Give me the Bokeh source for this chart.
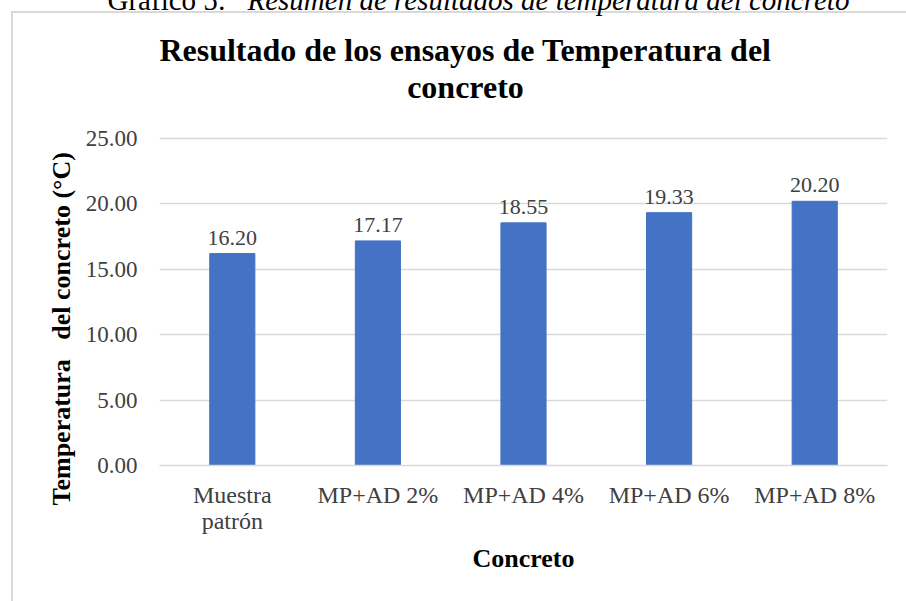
from bokeh.plotting import figure
from bokeh.models import Label, Range1d, FixedTicker, NumeralTickFormatter, ColumnDataSource, Title
from bokeh.core.properties import value
from bokeh.embed import file_html
from bokeh.resources import INLINE

categories = ["Muestra\npatrón", "MP+AD 2%", "MP+AD 4%", "MP+AD 6%", "MP+AD 8%"]
temperatures = [16.20, 17.17, 18.55, 19.33, 20.20]
value_labels = ["16.20", "17.17", "18.55", "19.33", "20.20"]
y_ticks = [0, 5, 10, 15, 20, 25]
y_max_tick = 25

FONT = "Liberation Serif"
W, H = 906, 601
FRAME_LEFT, FRAME_RIGHT, FRAME_BOTTOM = 159, 887, 465
GRID_TOP = 138  # pixel row of the 25.00 gridline
# frame extends to the top of the canvas; range chosen so 25 sits at GRID_TOP
y_top = y_max_tick * FRAME_BOTTOM / (FRAME_BOTTOM - GRID_TOP)

p = figure(x_range=categories, y_range=Range1d(0, y_top), width=W, height=H,
           output_backend="svg", toolbar_location=None,
           min_border_left=FRAME_LEFT, min_border_right=W - FRAME_RIGHT,
           min_border_top=0, min_border_bottom=H - FRAME_BOTTOM)
p.outline_line_color = None
p.background_fill_color = None
p.border_fill_color = None
# light-grey chart-area border (left and top edges), as in the source document
p.styles = {
    "background-color": "white",
    "background-image": "linear-gradient(#d9d9d9,#d9d9d9), linear-gradient(#d9d9d9,#d9d9d9)",
    "background-size": "2px 100%, 100% 2px",
    "background-position": "11px 11px, 11px 11px",
    "background-repeat": "no-repeat",
}

src = ColumnDataSource(dict(cat=categories, temp=temperatures, lab=value_labels))
p.vbar(x="cat", top="temp", width=0.31, source=src, fill_color="#4472C4", line_color="#4472C4")
p.text(x="cat", y="temp", text="lab", source=src, text_align="center", text_baseline="alphabetic",
       y_offset=-16, text_font=value(FONT), text_font_size="22px", text_color="#404040")

p.xgrid.grid_line_color = None
p.ygrid.grid_line_color = "#d9d9d9"
p.ygrid.grid_line_width = 1.5
p.yaxis.ticker = FixedTicker(ticks=y_ticks)
p.yaxis.formatter = NumeralTickFormatter(format="0.00")
p.yaxis.axis_line_color = None
p.yaxis.major_tick_line_color = None
p.yaxis.minor_tick_line_color = None
p.yaxis.major_label_standoff = 16
p.yaxis.major_label_text_font_size = "23px"
p.xaxis.axis_line_color = "#d9d9d9"
p.xaxis.axis_line_width = 1.5
p.xaxis.major_tick_line_color = None
p.xaxis.major_label_standoff = 10
p.xaxis.major_label_text_font_size = "24px"
p.xaxis.major_label_text_line_height = 1.0
p.xaxis.axis_label = "Concreto"
p.xaxis.axis_label_standoff = 7
for ax in (p.xaxis, p.yaxis):
    ax.major_label_text_font = FONT
    ax.major_label_text_color = "#404040"
    ax.axis_label_text_font = FONT
    ax.axis_label_text_font_style = "bold"
    ax.axis_label_text_font_size = "26px"
    ax.axis_label_text_color = "#000000"

# y axis title (left panel, shifted down like the original)
p.add_layout(Title(text="Temperatura\u00a0\u00a0\u00a0del concreto (°C)", align="left", offset=-40, standoff=14,
                   text_font=FONT, text_font_style="bold", text_font_size="26px",
                   text_color="#000000"), "left")

# chart title (two centred lines)
for txt, yy in (("Resultado de los ensayos de Temperatura del", FRAME_BOTTOM - 49),
                ("concreto", FRAME_BOTTOM - 86)):
    p.add_layout(Label(x=465 - FRAME_LEFT, y=yy, x_units="screen", y_units="screen", text=txt,
                       text_align="center", text_baseline="alphabetic", text_font=FONT,
                       text_font_style="bold", text_font_size="32px", text_color="#000000"))

# document caption, cut by the top of the page
for txt, off, style in (("Gráfico 5:", 107 - FRAME_LEFT, "normal"),
                        ("Resumen de resultados de temperatura del concreto", 247 - FRAME_LEFT, "italic")):
    p.add_layout(Title(text=txt, align="left", vertical_align="top", offset=off, standoff=-34,
                       text_font=FONT, text_font_style=style, text_font_size="29px",
                       text_color="#000000"), "above")

open("out.html", "w").write(file_html(p, INLINE))
